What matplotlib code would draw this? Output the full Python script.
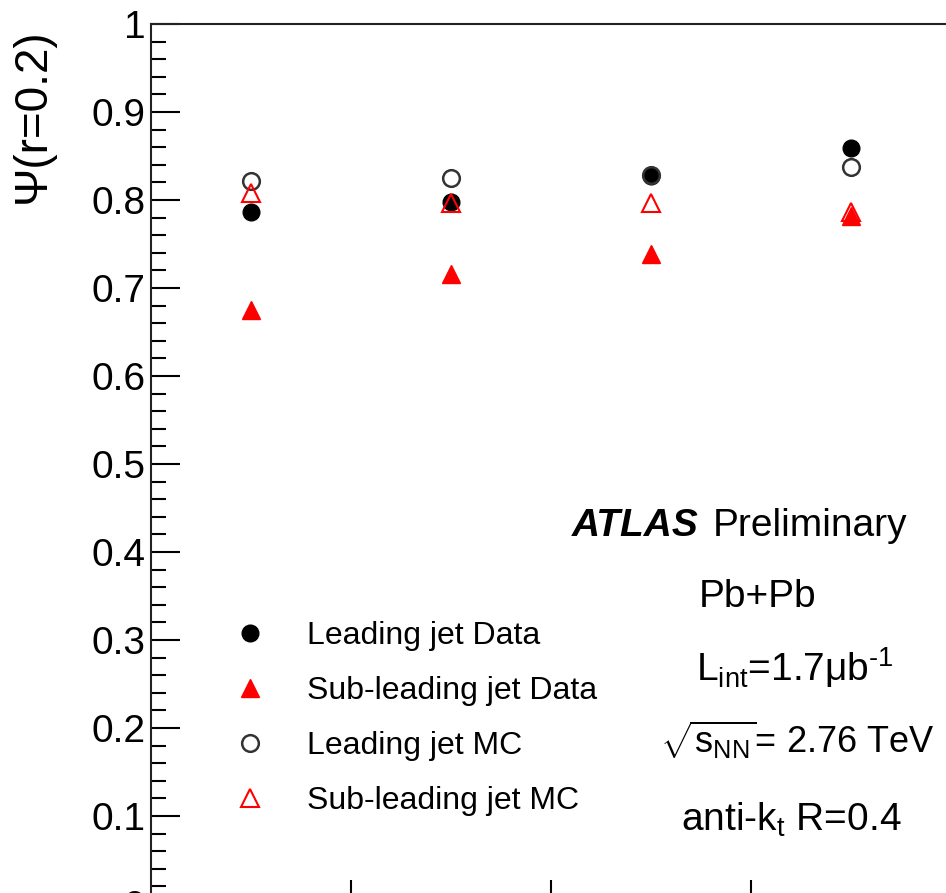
import matplotlib
matplotlib.use("Agg")
import matplotlib.pyplot as plt
from matplotlib.ticker import MultipleLocator, FixedLocator, NullFormatter

# four jet-pT bins, points at bin centres
bin_edges = [0, 1, 2, 3, 4]
bin_centres = [0.5, 1.5, 2.5, 3.5]

lead_data = [0.786, 0.798, 0.827, 0.859]
sub_data = [0.675, 0.716, 0.739, 0.782]
lead_mc = [0.822, 0.825, 0.828, 0.837]
sub_mc = [0.808, 0.797, 0.797, 0.786]

labels = ["Leading jet Data", "Sub-leading jet Data",
          "Leading jet MC", "Sub-leading jet MC"]

plt.rcParams["font.family"] = ["Liberation Sans", "DejaVu Sans"]
plt.rcParams["mathtext.fontset"] = "custom"
plt.rcParams["mathtext.rm"] = "Liberation Sans"
plt.rcParams["mathtext.it"] = "Liberation Sans"

W, H = 946, 893
fig = plt.figure(figsize=(W / 100, H / 100), dpi=100)


def px(x, y):
    return x / W, 1 - y / H


# axes frame runs past the crop on the right and bottom
x0, y0 = px(151, 904)
x1, y1 = px(951, 24)
ax = fig.add_axes([x0, y0, x1 - x0, y1 - y0])

ax.plot(bin_centres, lead_data, "o", color="black", ms=12, label=labels[0])
ax.plot(bin_centres, sub_data, "^", color="red", ms=13, label=labels[1])
ax.plot(bin_centres, lead_mc, "o", mfc="none", mec="#333333", mew=1.8, ms=12,
        label=labels[2])
ax.plot(bin_centres, sub_mc, "^", mfc="none", mec="red", mew=1.5, ms=13,
        label=labels[3])

ax.set_xlim(bin_edges[0], bin_edges[-1])
ax.set_ylim(0, 1)
ax.yaxis.set_major_locator(MultipleLocator(0.1))
ax.yaxis.set_minor_locator(MultipleLocator(0.02))
ax.yaxis.set_major_formatter(plt.FuncFormatter(
    lambda v, p: "0" if abs(v) < 1e-9 else ("1" if abs(v - 1) < 1e-9 else f"{v:.1f}")))
ax.xaxis.set_major_locator(FixedLocator(bin_edges[1:-1]))
ax.xaxis.set_major_formatter(NullFormatter())
ax.tick_params(axis="y", which="major", direction="in", length=21, width=1.5,
               labelsize=28, pad=4)
ax.tick_params(axis="y", which="minor", direction="in", length=11, width=1.5)
ax.tick_params(axis="x", which="major", direction="in", length=17, width=1.5)
for s in ax.spines.values():
    s.set_linewidth(1.5)
    s.set_color("#222222")

fig.text(*px(33, 28), "Ψ(r=0.2)", rotation=90, ha="center", va="top",
         fontsize=33)

leg = ax.legend(loc="upper left", bbox_to_anchor=px(234, 621),
                bbox_transform=fig.transFigure, frameon=False, fontsize=23,
                handlelength=1.0, handletextpad=1.3, labelspacing=0.78,
                borderpad=0, borderaxespad=0, numpoints=1)

fig.text(*px(572, 526), "ATLAS", fontsize=28, fontweight="bold",
         fontstyle="italic", ha="left", va="center")
fig.text(*px(713, 526), "Preliminary", fontsize=28, ha="left", va="center")
fig.text(*px(758, 597), "Pb+Pb", fontsize=28, ha="center", va="center")
fig.text(*px(795, 668), r"L$_{\rm int}$=1.7μb$^{\text{-}1}$", fontsize=28,
         ha="center", va="center")
fig.text(*px(797, 740), r"$\sqrt{\rm s_{NN}}$= 2.76 TeV", fontsize=26,
         ha="center", va="center")
fig.text(*px(791, 820), r"anti-k$_{\rm t}$ R=0.4", fontsize=28,
         ha="center", va="center")

fig.savefig("out.png", dpi=100)
